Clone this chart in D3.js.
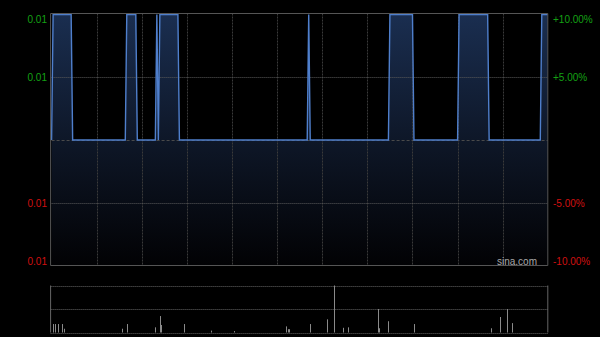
<!DOCTYPE html>
<html>
<head>
<meta charset="utf-8">
<script src="https://cdn.jsdelivr.net/npm/d3@7"></script>
<style>
    body { margin: 0; background: #000; }
    svg { display: block; }
    text { font-family: "Liberation Sans", Arial, sans-serif; }
</style>
</head>
<body>
<div id="chartArea"></div>
<script>
// minute of the session (0..330) and last price
let priceMinutes = [0, 1, 13, 14, 49, 50, 56, 57, 69, 70, 71, 72, 84, 85, 170, 171, 172,
                    224, 225, 240, 241, 270, 271, 290, 291, 325, 326, 330];
let priceValues = [0.010, 0.011, 0.011, 0.010, 0.010, 0.011, 0.011, 0.010, 0.010, 0.011, 0.010, 0.011,
                   0.011, 0.010, 0.010, 0.011, 0.010, 0.010, 0.011, 0.011, 0.010, 0.010, 0.011,
                   0.011, 0.010, 0.010, 0.011, 0.011];

// volume bars
let volumeMinutes = [1, 2, 4, 7, 8, 47, 50, 69, 72, 73, 88, 106, 121, 156, 157, 158, 172, 183,
                     188, 194, 197, 217, 218, 224, 241, 292, 298, 303, 306];
let volumeValues = [18, 18, 18, 18, 8, 8, 18, 11, 35, 16, 18, 4, 3, 13, 7, 7, 18, 28,
                    100, 10, 11, 50, 9, 24, 18, 9, 33, 50, 20];

let prevClose = 0.010;
let priceTicks = [0.011, 0.0105, 0.0095, 0.009];
let pctLabels = ['+10.00%', '+5.00%', '-5.00%', '-10.00%'];
let timeGrid = [30, 60, 90, 120, 150, 180, 210, 240, 270, 300];

function drawChart() {

    let width = 600, height = 337;

    let main = { left: 51.6, right: 547.8, top: 14.5, bottom: 265.5 };
    let vol = { top: 285.5, bottom: 332.5 };

    let svg = d3.select('#chartArea')
        .append('svg')
            .attr('width', width)
            .attr('height', height)
            .style('background', '#000');

    let xScale = d3.scaleLinear()
        .domain([0, 330])
        .range([main.left, main.right]);

    let yScale = d3.scaleLinear()
        .domain([prevClose * 0.9, prevClose * 1.1])
        .range([main.bottom, main.top]);

    let volScale = d3.scaleLinear()
        .domain([0, d3.max(volumeValues)])
        .range([vol.bottom, vol.top]);

    let data = priceMinutes.map((m, i) => ({ m: m, p: priceValues[i] }));

    // gradient under the price line
    let grad = svg.append('defs').append('linearGradient')
        .attr('id', 'fillGrad')
        .attr('gradientUnits', 'userSpaceOnUse')
        .attr('x1', 0).attr('x2', 0)
        .attr('y1', main.top).attr('y2', main.bottom);
    grad.append('stop').attr('offset', '0%').attr('stop-color', 'rgb(26,46,80)');
    grad.append('stop').attr('offset', '50%').attr('stop-color', 'rgb(14,23,40)');
    grad.append('stop').attr('offset', '100%').attr('stop-color', 'rgb(2,2,4)');

    let area = d3.area()
        .x(d => xScale(d.m))
        .y0(main.bottom)
        .y1(d => yScale(d.p));

    svg.append('path')
        .attr('d', area(data))
        .attr('fill', 'url(#fillGrad)');

    // vertical grid
    svg.append('g')
        .selectAll('line')
        .data(timeGrid)
        .enter().append('line')
            .attr('x1', d => Math.round(xScale(d)) + 0.5)
            .attr('x2', d => Math.round(xScale(d)) + 0.5)
            .attr('y1', main.top - 1)
            .attr('y2', main.bottom)
            .attr('stroke', '#3a3a3a')
            .attr('stroke-dasharray', '2,1');

    // horizontal grid (+5%, -5%) and prev close line
    svg.append('g')
        .selectAll('line')
        .data([prevClose * 1.05, prevClose * 0.95])
        .enter().append('line')
            .attr('x1', main.left)
            .attr('x2', main.right)
            .attr('y1', d => Math.round(yScale(d)) + 0.5)
            .attr('y2', d => Math.round(yScale(d)) + 0.5)
            .attr('stroke', '#5a5a5a')
            .attr('stroke-dasharray', '1,1');

    svg.append('line')
        .attr('x1', main.left)
        .attr('x2', main.right)
        .attr('y1', Math.round(yScale(prevClose)) + 0.5)
        .attr('y2', Math.round(yScale(prevClose)) + 0.5)
        .attr('stroke', '#4a4a4a')
        .attr('stroke-dasharray', '3,2');

    // price line
    let line = d3.line()
        .x(d => xScale(d.m))
        .y(d => yScale(d.p));

    svg.append('path')
        .attr('d', line(data))
        .attr('fill', 'none')
        .attr('stroke', '#4f7fcc')
        .attr('stroke-width', 1.4);

    // border of the main chart
    svg.append('path')
        .attr('d', 'M' + (main.left - 1) + ',' + (main.top - 1) + 'H' + main.right + 'V' + main.bottom + 'H' + (main.left - 1) + 'Z')
        .attr('fill', 'none')
        .attr('stroke', '#555')
        .attr('stroke-width', 1);

    // left axis labels (price)
    let fmt = d3.format('.2f');
    let labelY = [19, 77, 203, 261];

    svg.append('g')
        .selectAll('text')
        .data(priceTicks)
        .enter().append('text')
            .attr('x', 47)
            .attr('y', (d, i) => labelY[i])
            .attr('dy', '0.35em')
            .attr('text-anchor', 'end')
            .attr('font-size', '10px')
            .attr('fill', d => d > prevClose ? '#14a014' : '#d01010')
            .text(d => fmt(d));

    // right axis labels (percent)
    svg.append('g')
        .selectAll('text')
        .data(pctLabels)
        .enter().append('text')
            .attr('x', 553)
            .attr('y', (d, i) => labelY[i])
            .attr('dy', '0.35em')
            .attr('font-size', '10px')
            .attr('fill', d => d[0] === '+' ? '#14a014' : '#d01010')
            .text(d => d);

    svg.append('text')
        .attr('x', 537)
        .attr('y', 261)
        .attr('dy', '0.35em')
        .attr('text-anchor', 'end')
        .attr('font-size', '10px')
        .attr('fill', '#a8a8a8')
        .text('sina.com');

    // volume panel
    svg.append('g')
        .selectAll('line')
        .data([vol.top, (vol.top + vol.bottom) / 2, vol.bottom])
        .enter().append('line')
            .attr('x1', main.left - 1)
            .attr('x2', main.right)
            .attr('y1', d => Math.round(d) + 0.5)
            .attr('y2', d => Math.round(d) + 0.5)
            .attr('stroke', '#666')
            .attr('stroke-dasharray', '1,1');

    svg.append('g')
        .selectAll('line')
        .data([main.left - 1, main.right])
        .enter().append('line')
            .attr('x1', d => d)
            .attr('x2', d => d)
            .attr('y1', vol.top)
            .attr('y2', vol.bottom)
            .attr('stroke', '#666');

    svg.append('g')
        .selectAll('line')
        .data(volumeMinutes)
        .enter().append('line')
            .attr('x1', d => Math.round(xScale(d)) + 0.5)
            .attr('x2', d => Math.round(xScale(d)) + 0.5)
            .attr('y1', vol.bottom)
            .attr('y2', (d, i) => volScale(volumeValues[i]))
            .attr('stroke', '#8a8a8a');
}

drawChart();
</script>
</body>
</html>
